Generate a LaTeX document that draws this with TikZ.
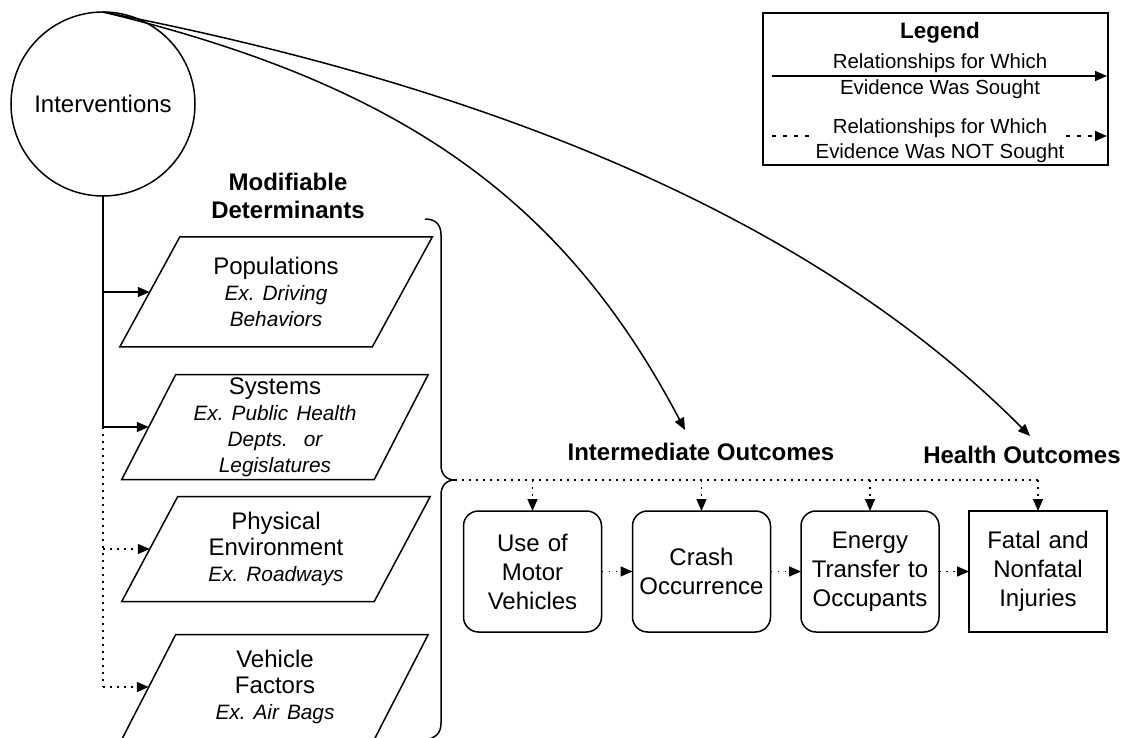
\documentclass[tikz,border=0pt]{standalone}
\usepackage{fontspec}
\setmainfont{Liberation Sans}
\usetikzlibrary{arrows.meta,calc}
\frenchspacing
\newcommand\exfont{\fontsize{10.4}{13}\selectfont\itshape}
\begin{document}
\begin{tikzpicture}[x=0.5pt,y=-0.5pt,
  every node/.style={font=\fontsize{12}{13}\selectfont, align=center, inner sep=0pt, outer sep=0pt},
  lw/.style={line width=0.75pt},
  tipa/.style={-{Triangle[length=6pt,width=5pt]}},
  solidarrow/.style={lw, tipa},
  dotline/.style={lw, dash pattern=on 0.75pt off 2.75pt},
  dotarrow/.style={dotline, tipa},
  dashline/.style={lw, dash pattern=on 2pt off 3.5pt},
  det/.style={minimum width=126.25pt, text width=122pt},
  outbox/.style={draw, lw, rounded corners=7.5pt, minimum width=69pt, minimum height=60.5pt, text width=66pt, font=\fontsize{12}{14.5}\selectfont},
  lbl/.style={font=\bfseries\fontsize{12}{14}\selectfont},
  legtext/.style={font=\fontsize{10.2}{12}\selectfont},
]
\useasboundingbox (0,0) rectangle (1121,738);
\clip (0,0) rectangle (1121,738);

% Interventions
\node[circle, draw, lw, minimum size=92pt] (int) at (103,104) {Interventions};

% Modifiable determinants
\node[lbl] (md) at (288,196) {Modifiable\\Determinants};
\node[det, minimum height=55pt] (pop) at (276,292) {Populations\\{\exfont Ex. Driving}\\{\exfont Behaviors}};
\node[det, minimum height=52.5pt] (sys) at (275,427) {Systems\\{\exfont Ex. Public Health}\\{\exfont Depts.\ \ or}\\{\exfont Legislatures}};
\node[det, minimum height=52.5pt] (phy) at (276,549) {Physical\\Environment\\{\exfont Ex. Roadways}};
\node[det, minimum height=52.5pt] (veh) at (275,687) {Vehicle\\Factors\\{\exfont Ex. Air Bags}};
\foreach \n/\s in {pop/15,sys/13.5,phy/14,veh/13.5}{
  \draw[lw] ([xshift=\s pt]\n.north west) -- ([xshift=\s pt]\n.north east)
    -- ([xshift=-\s pt]\n.south east) -- ([xshift=-\s pt]\n.south west) -- cycle;
}

% trunk line and arrows
\coordinate (vpop) at (103,292);
\coordinate (vsys) at (103,427);
\coordinate (vphy) at (103,549);
\coordinate (vveh) at (103,687);
\draw[lw] (int.south) -- (vsys);
\draw[dotline] (vsys) -- (vveh);
\draw[solidarrow] (vpop) -- (pop);
\draw[solidarrow] (vsys) -- (sys);
\draw[dotarrow] (vphy) -- (phy);
\draw[dotarrow] (vveh) -- (veh);

% brace
\coordinate (brtip) at (455,480);
\draw[lw] (425,219) .. controls (436,219) and (441,225) .. (441,235)
  -- (441,465) .. controls (441,474) and (446,480) .. (brtip)
  .. controls (446,480) and (441,486) .. (441,495)
  -- (441,723) .. controls (441,733) and (436,738) .. (425,740);

% outcome labels
\node[lbl] (io) at (701,452) {Intermediate Outcomes};
\node[lbl] (ho) at (1022,455) {Health Outcomes};

% outcome boxes
\node[outbox] (use) at (532.5,571.5) {Use of\\Motor\\Vehicles};
\node[outbox] (cra) at (701.5,571.5) {Crash\\Occurrence};
\node[outbox] (ene) at (870,571.5) {Energy\\Transfer to\\Occupants};
\node[outbox, sharp corners] (fat) at (1038,571.5) {Fatal and\\Nonfatal\\Injuries};

\draw[dotline] (brtip) -- (brtip -| fat);
\foreach \b in {use,cra,ene,fat}{
  \draw[dotarrow] (brtip -| \b) -- (\b);
}
\draw[dotarrow] (use) -- (cra);
\draw[dotarrow] (cra) -- (ene);
\draw[dotarrow] (ene) -- (fat);

% curved arrows
\coordinate (iotip) at (685,430);
\coordinate (hotip) at (1030,436);
\draw[solidarrow] (int.north) .. controls (405,85) and (565,202) .. (iotip);
\draw[solidarrow] (int.north) .. controls (505,90) and (818,223) .. (hotip);

% legend
\node[draw, line width=1.2pt, minimum width=172.5pt, minimum height=76pt] (leg) at (935.5,89) {};
\node[lbl, font=\bfseries\fontsize{11.2}{13}\selectfont] (legt) at (940,33) {Legend};
\coordinate (l1a) at (772,76);
\coordinate (l1b) at (1107,76);
\coordinate (l2a) at (772,136);
\coordinate (l2b) at (1107,136);
\draw[solidarrow] (l1a) -- (l1b);
\node[legtext] (leg1a) at (940,63) {Relationships for Which};
\node[legtext] (leg1b) at (940,89) {Evidence Was Sought};
\node[legtext] (leg2a) at (940,128) {Relationships for Which};
\node[legtext, inner xsep=1pt] (leg2b) at (940,153) {Evidence Was NOT Sought};
\draw[dashline] (l2a) -- (l2a -| leg2b.west);
\draw[dashline, tipa] (l2a -| leg2b.east) -- (l2b);
\end{tikzpicture}
\end{document}
